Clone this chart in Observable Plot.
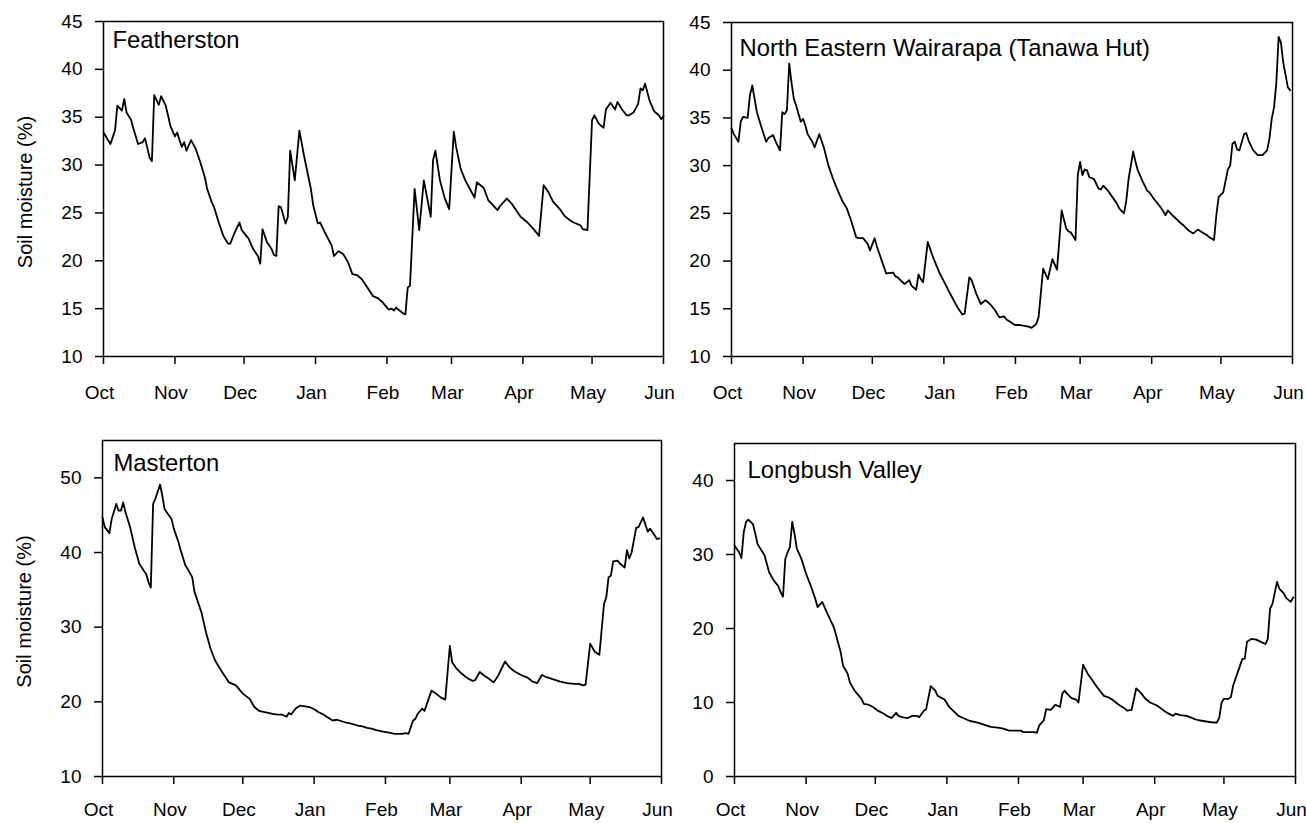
<!DOCTYPE html>
<html>
<head>
<meta charset="utf-8">
<script src="https://cdn.jsdelivr.net/npm/d3@7"></script>
<script src="https://cdn.jsdelivr.net/npm/@observablehq/plot@0.6"></script>
<style>
  body { margin: 0; background: #fff; }
  #wrap { position: relative; width: 1306px; height: 823px; overflow: hidden; background: #fff; }
  #wrap svg { position: absolute; }
</style>
</head>
<body>
<div id="wrap"></div>
<script>
// ---- tick labels / titles ----
const months = ["Oct", "Nov", "Dec", "Jan", "Feb", "Mar", "Apr", "May", "Jun"];
const yLabel = "Soil moisture (%)";
const titles = ["Featherston", "North Eastern Wairarapa (Tanawa Hut)", "Masterton", "Longbush Valley"];
const yTicksFeatherston = [10, 15, 20, 25, 30, 35, 40, 45];
const yTicksWairarapa = [10, 15, 20, 25, 30, 35, 40, 45];
const yTicksMasterton = [10, 20, 30, 40, 50];
const yTicksLongbush = [0, 10, 20, 30, 40];

// ---- data: days since 1 October, soil moisture (%) ----
const featherstonDay = [0,3,5,6,8,9,10,12,13,15,17,18,20,21,22,24,25,27,28,29,31,32,33,34,35,36,38,40,42,44,45,47,48,50,52,54,55,57,59,60,62,63,65,67,68,69,71,73,74,75,76,77,79,80,81,83,85,87,90,91,93,94,96,99,100,102,104,106,108,110,112,114,117,119,121,123,124,125,126,127,128,129,130,131,132,133,135,137,139,142,143,144,146,148,150,152,153,155,157,159,161,162,165,167,171,172,175,177,179,181,184,187,189,191,193,195,198,200,202,204,207,208,210,212,213,215,217,218,220,222,223,225,227,228,230,232,233,234,235,237,239,241,242,243];
const featherstonVal = [33.4,32.2,33.6,36.2,35.7,36.9,35.5,34.7,33.8,32.2,32.4,32.8,30.8,30.4,37.3,36.3,37.2,36.2,35.2,34.1,33.0,33.4,32.6,31.9,32.4,31.5,32.6,31.7,30.3,28.7,27.5,26.1,25.6,24.0,22.6,21.8,21.8,23.0,24.0,23.2,22.6,22.3,21.2,20.5,19.7,23.3,21.9,21.2,20.6,20.5,25.7,25.6,23.9,24.6,31.5,28.4,33.6,31.0,27.5,25.8,23.9,24.0,23.0,21.6,20.5,21.0,20.7,19.9,18.6,18.5,18.1,17.4,16.3,16.1,15.7,15.1,14.9,15.0,14.8,15.1,14.9,14.7,14.5,14.4,17.2,17.4,27.5,23.2,28.4,24.6,30.5,31.5,28.4,26.6,25.4,33.5,31.9,29.6,28.4,27.5,26.6,28.2,27.6,26.3,25.3,25.7,26.5,26.0,25.3,24.6,24.0,23.2,22.6,27.9,27.2,26.2,25.4,24.7,24.3,24.0,23.7,23.3,23.2,34.7,35.2,34.3,33.9,35.8,36.5,35.8,36.6,35.8,35.2,35.2,35.5,36.4,38.0,37.8,38.5,36.7,35.6,35.2,34.8,35.1];

const wairarapaDay = [0,1,3,4,5,7,8,9,10,11,13,15,16,18,19,21,22,23,24,25,26,27,28,30,31,32,33,35,36,38,40,42,44,46,48,50,52,54,55,57,59,60,62,63,65,67,70,71,72,74,75,77,78,80,81,82,83,85,87,89,90,93,94,96,98,100,101,103,104,106,108,110,112,114,115,116,118,119,121,122,123,125,127,129,130,132,133,135,137,139,141,143,145,146,147,149,150,151,152,153,154,155,157,159,160,161,163,165,167,168,170,171,172,174,175,176,178,180,181,183,186,188,189,191,194,196,198,200,202,204,206,207,209,210,211,213,215,216,217,218,219,220,222,223,224,226,228,230,232,233,234,235,236,237,238,239,241,242];
const wairarapaVal = [33.9,33.3,32.5,34.6,35.1,35.0,37.4,38.4,37.0,35.6,34.0,32.5,32.9,33.2,32.6,31.6,35.6,35.4,35.8,40.7,38.7,37.0,36.3,34.6,34.9,34.2,33.3,32.5,31.9,33.3,31.9,30.0,28.6,27.4,26.3,25.5,24.1,22.5,22.4,22.4,21.8,21.1,22.4,21.5,20.1,18.7,18.8,18.4,18.3,17.8,17.6,18.0,17.4,17.0,18.6,18.1,17.8,22.0,20.6,19.4,18.8,17.4,16.9,16.0,15.1,14.4,14.5,18.3,18.0,16.6,15.5,15.9,15.5,14.9,14.5,14.1,14.2,13.9,13.6,13.4,13.3,13.3,13.2,13.1,13.0,13.4,14.1,19.2,18.1,20.2,19.1,25.3,23.4,23.1,23.0,22.2,29.0,30.4,29.0,29.6,29.5,28.8,28.6,27.6,27.5,27.9,27.4,26.7,26.0,25.5,25.0,26.3,28.6,31.5,30.4,29.5,28.4,27.4,27.2,26.5,25.6,24.8,25.3,24.8,24.1,23.7,23.2,22.9,23.3,23.0,22.7,22.5,22.2,24.8,26.7,27.2,29.6,30.0,32.3,32.5,31.7,31.6,33.3,33.4,32.6,31.6,31.1,31.1,31.6,32.8,34.9,36.1,38.7,43.5,42.9,40.8,38.2,37.9];

const mastertonDay = [0,1,3,4,6,7,8,9,10,12,14,15,16,19,20,21,22,23,25,26,27,30,31,33,34,36,37,39,40,43,45,47,49,52,55,58,61,64,66,68,71,74,76,78,80,81,82,84,86,88,90,92,94,96,98,100,102,104,106,109,111,113,115,117,119,122,124,127,130,132,133,135,136,137,139,140,143,145,147,149,151,152,154,156,159,161,162,164,166,168,170,172,175,177,179,182,185,187,189,191,193,196,199,202,205,207,209,210,212,214,216,218,219,220,221,222,224,225,227,228,229,230,232,233,235,237,238,240,241,242];
const mastertonVal = [44.7,43.4,42.6,44.5,46.5,45.6,45.6,46.7,45.4,43.4,40.7,39.6,38.5,37.1,36.0,35.3,46.5,47.2,49.1,47.6,45.8,44.5,43.2,41.4,40.3,38.3,37.8,36.7,34.7,32.0,29.3,27.1,25.5,24.0,22.6,22.2,21.1,20.4,19.3,18.8,18.6,18.4,18.3,18.3,18.0,18.5,18.3,19.1,19.5,19.4,19.3,19.0,18.6,18.3,17.9,17.5,17.6,17.4,17.2,17.0,16.8,16.7,16.5,16.4,16.2,16.0,15.9,15.7,15.7,15.8,15.7,17.5,17.7,18.4,19.1,18.8,21.5,21.1,20.6,20.3,27.5,25.3,24.4,23.8,23.1,22.8,22.9,24.0,23.5,23.1,22.6,23.5,25.4,24.6,24.1,23.6,23.2,22.7,22.5,23.6,23.3,23.0,22.7,22.5,22.4,22.4,22.2,22.3,27.8,26.7,26.3,33.1,34.0,36.7,36.9,38.8,38.9,38.5,38.0,40.3,39.2,40.0,43.3,43.4,44.7,42.8,43.2,42.3,41.8,41.9];

const longbushDay = [0,2,3,4,5,6,8,9,10,13,15,17,19,20,21,22,23,24,25,26,27,29,31,33,35,36,38,39,41,43,44,46,47,49,50,52,55,56,58,60,62,64,66,68,70,71,73,75,77,79,80,82,83,85,87,88,91,93,95,97,99,102,105,108,111,114,116,119,121,124,125,130,131,132,134,135,137,139,141,142,143,144,146,148,149,151,153,155,157,160,162,164,166,169,170,172,174,176,178,180,183,186,188,190,191,193,196,199,201,203,205,207,209,210,211,212,214,215,216,218,220,221,222,224,226,228,230,231,232,233,235,236,238,239,241,242];
const longbushVal = [31.2,30.3,29.5,33.0,34.4,34.7,34.1,32.8,31.4,29.9,27.6,26.5,25.7,24.9,24.3,29.4,30.3,31.0,34.4,32.8,30.8,29.4,27.4,25.8,24.0,22.9,23.6,22.9,21.5,20.2,19.1,16.8,15.0,13.9,12.7,11.6,10.5,9.8,9.7,9.4,8.9,8.6,8.2,7.9,8.6,8.2,8.0,7.9,8.2,8.2,8.0,8.9,9.1,12.2,11.6,10.9,10.4,9.4,8.8,8.2,7.9,7.5,7.3,7.0,6.7,6.6,6.5,6.2,6.2,6.2,6.0,6.0,5.9,6.9,7.6,9.1,9.0,9.7,9.4,11.2,11.6,11.2,10.6,10.4,10.0,15.1,13.9,13.0,12.1,10.9,10.7,10.3,9.8,9.2,8.9,9.0,11.9,11.3,10.5,10.0,9.6,8.9,8.5,8.2,8.5,8.3,8.2,7.8,7.6,7.5,7.4,7.3,7.3,8.0,10.0,10.5,10.5,10.7,12.3,14.1,15.9,15.9,18.2,18.6,18.5,18.2,17.9,18.6,22.7,23.3,26.3,25.4,24.7,24.1,23.6,24.2];

// ---- scaffolding ----
const start = new Date(Date.UTC(2006, 9, 1));
const end = new Date(Date.UTC(2007, 5, 1));
const monthTicks = d3.utcMonth.range(start, d3.utcDay.offset(end, 1));
const fmtMonth = d => months[d3.utcMonth.count(start, d)];
const FONT = '"Liberation Sans", Arial, Helvetica, sans-serif';
const wrap = document.getElementById("wrap");

function panel(p, days, vals) {
  const data = days.map((d, i) => ({date: d3.utcDay.offset(start, d), v: vals[i]}));
  const marks = [
    // tick marks only
    Plot.axisX({ticks: monthTicks, tickFormat: () => "", tickSize: 8, label: null, strokeWidth: 1.5}),
    // month labels, nudged slightly left as in the original
    Plot.axisX({ticks: monthTicks, tickFormat: fmtMonth, tickSize: 0, tickPadding: 8 + p.xpad, dx: -4, label: null, fontSize: 19}),
    Plot.axisY({ticks: p.yTicks, tickSize: 8, tickPadding: 13, label: null, fontSize: 19, strokeWidth: 1.5}),
    Plot.line(data, {x: "date", y: "v", stroke: "#000", strokeWidth: 1.8}),
    Plot.frame({stroke: "#000", strokeWidth: 1.5}),
    Plot.text([p.title], {text: d => d, frameAnchor: "top-left", textAnchor: "start", lineAnchor: "top", dx: p.tdx, dy: p.tdy, fontSize: 23.8, fill: "#000"})
  ];
  if (p.ylab) {
    marks.push(Plot.text([yLabel], {text: d => d, frameAnchor: "left", rotate: -90, lineAnchor: "middle", textAnchor: "middle", dx: -78, dy: 3, fontSize: 20, fill: "#000"}));
  }
  const svg = Plot.plot({
    width: p.w, height: p.h,
    marginLeft: p.ml, marginRight: p.mr, marginTop: p.mt, marginBottom: p.mb,
    x: {type: "utc", domain: [start, end]},
    y: {domain: p.yDomain},
    style: {fontFamily: FONT, fontSize: "19px", color: "#000", background: "transparent", overflow: "visible"},
    marks
  });
  svg.style.left = p.left + "px";
  svg.style.top = p.top + "px";
  wrap.appendChild(svg);
}

panel({left: 0, top: 0, w: 680, h: 410, ml: 103, mr: 17, mt: 21, mb: 54, yDomain: [10, 45], yTicks: yTicksFeatherston,
       title: titles[0], tdx: 9, tdy: 10, ylab: true, xpad: 21}, featherstonDay, featherstonVal);
panel({left: 650, top: 0, w: 656, h: 410, ml: 81, mr: 14, mt: 22, mb: 54, yDomain: [10, 45], yTicks: yTicksWairarapa,
       title: titles[1], tdx: 8, tdy: 17, ylab: false, xpad: 21}, wairarapaDay, wairarapaVal);
panel({left: 0, top: 410, w: 680, h: 413, ml: 102, mr: 19, mt: 30, mb: 47, yDomain: [10, 55], yTicks: yTicksMasterton,
       title: titles[2], tdx: 11, tdy: 14, ylab: true, xpad: 18}, mastertonDay, mastertonVal);
panel({left: 650, top: 410, w: 656, h: 413, ml: 84, mr: 11, mt: 33, mb: 47, yDomain: [0, 45], yTicks: yTicksLongbush,
       title: titles[3], tdx: 13, tdy: 18, ylab: false, xpad: 18}, longbushDay, longbushVal);
</script>
</body>
</html>
